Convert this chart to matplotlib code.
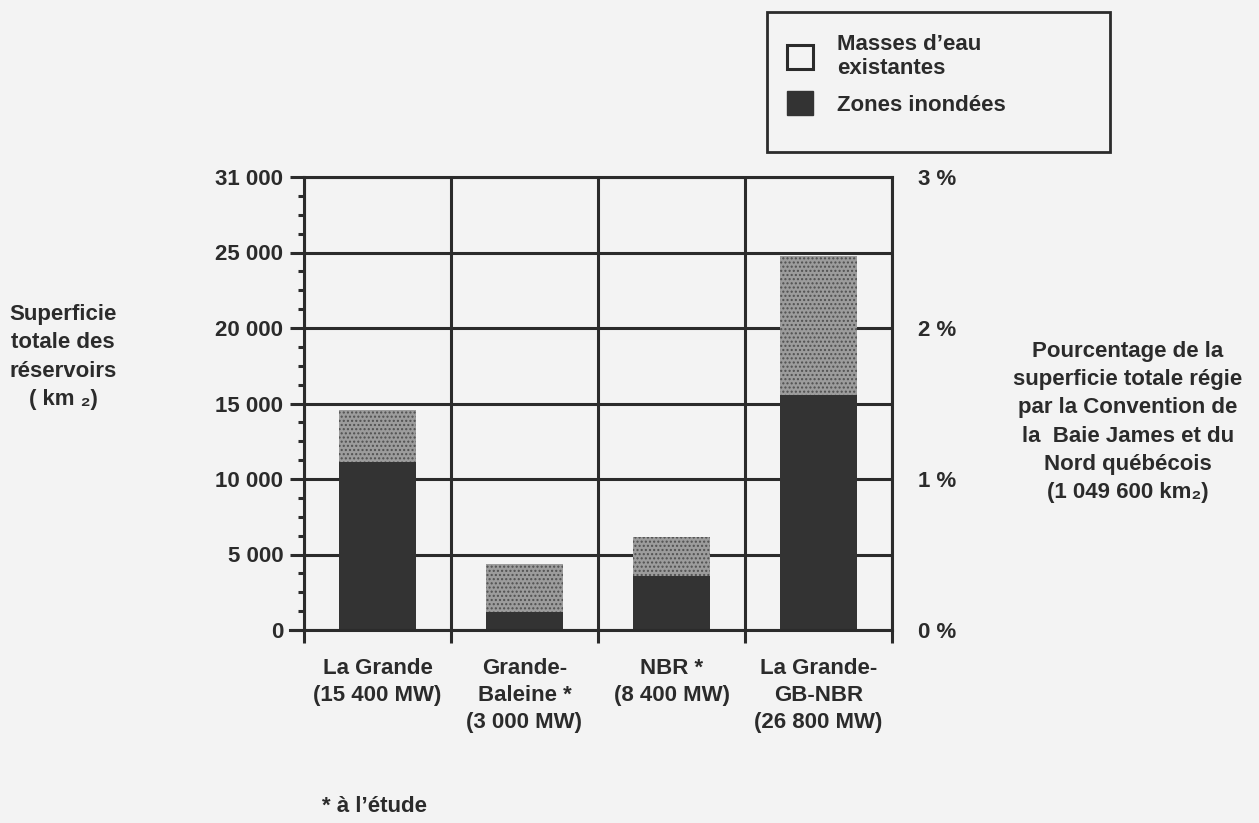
import matplotlib
matplotlib.use("Agg")
import matplotlib.pyplot as plt
from matplotlib.patches import Patch, Rectangle
from matplotlib.ticker import MultipleLocator

# values (km2)
categories = [
    "La Grande\n(15 400 MW)",
    "Grande-\nBaleine *\n(3 000 MW)",
    "NBR *\n(8 400 MW)",
    "La Grande-\nGB-NBR\n(26 800 MW)",
]
zones_inondees = [11100, 1200, 3600, 15550]
masses_existantes = [3450, 3150, 2550, 9250]

left_ticks = [0, 5000, 10000, 15000, 20000, 25000, 30000]
left_labels = ["0", "5 000", "10 000", "15 000", "20 000", "25 000", "31 000"]
right_ticks = [0, 1, 2, 3]
right_labels = ["0 %", "1 %", "2 %", "3 %"]

INK = "#2b2b2b"
PAPER = "#f3f3f3"
DARK = "#333333"
LW = 2.2

plt.rcParams["font.family"] = ["Liberation Sans", "DejaVu Sans"]
plt.rcParams["font.weight"] = "bold"
plt.rcParams["font.size"] = 16
plt.rcParams["text.color"] = INK
plt.rcParams["hatch.color"] = "#505050"
plt.rcParams["hatch.linewidth"] = 1.0

fig = plt.figure(figsize=(12.59, 8.23), dpi=100, facecolor=PAPER)
ax = fig.add_axes([304 / 1259, 1 - 630 / 823, 588 / 1259, 453 / 823])
ax.set_facecolor(PAPER)

x = list(range(len(categories)))
ax.bar(x, zones_inondees, width=0.52, color=DARK, linewidth=0, zorder=3)
ax.bar(x, masses_existantes, width=0.52, bottom=zones_inondees,
       color="#9c9c9c", hatch="....", linewidth=0, zorder=3)

ax.set_xlim(-0.5, len(categories) - 0.5)
ax.set_ylim(0, 30000)

# category boundaries as major x ticks (vertical lines + short outward ticks)
ax.set_xticks([i - 0.5 for i in range(len(categories) + 1)])
ax.set_xticklabels([])
ax.set_xticks(x, minor=True)
ax.set_xticklabels(categories, minor=True, fontsize=16, linespacing=1.38)
ax.tick_params(axis="x", which="major", direction="out", length=9.5,
               width=LW, color=INK)
ax.tick_params(axis="x", which="minor", length=0, pad=20, colors=INK)

ax.set_yticks(left_ticks)
ax.set_yticklabels(left_labels, fontsize=16)
ax.yaxis.set_minor_locator(MultipleLocator(1250))
ax.tick_params(axis="y", which="major", direction="out", length=10,
               width=LW, color=INK, pad=5, labelcolor=INK)
ax.tick_params(axis="y", which="minor", direction="out", length=4.5,
               width=LW, color=INK)

ax.grid(True, which="major", color=INK, linewidth=LW, zorder=1)
ax.set_axisbelow(True)
for sp in ax.spines.values():
    sp.set_color(INK)
    sp.set_linewidth(LW)
ax.spines["bottom"].set_visible(False)
ax.axhline(0, color=INK, linewidth=LW, zorder=4, xmin=-0.024, clip_on=False)

ax2 = ax.twinx()
ax2.set_ylim(0, 3)
ax2.set_yticks(right_ticks)
ax2.set_yticklabels(right_labels, fontsize=16)
ax2.tick_params(axis="y", length=0, pad=19, labelcolor=INK)
for sp in ax2.spines.values():
    sp.set_visible(False)

fig.text(63 / 1259, 1 - 357 / 823,
         "Superficie\ntotale des\nréservoirs\n( km ₂)",
         ha="center", va="center", fontsize=16, linespacing=1.45)
fig.text(1128 / 1259, 1 - 422 / 823,
         "Pourcentage de la\nsuperficie totale régie\npar la Convention de\n"
         "la  Baie James et du\nNord québécois\n(1 049 600 km₂)",
         ha="center", va="center", fontsize=16, linespacing=1.45)
fig.text(322 / 1259, 1 - 806 / 823, "* à l’étude", ha="left", va="center",
         fontsize=16)

# legend frame drawn separately: the original box has a wide empty margin
fig.add_artist(Rectangle((767 / 1259, 1 - 152 / 823), 343 / 1259, 140 / 823,
                         transform=fig.transFigure, facecolor=PAPER,
                         edgecolor=INK, linewidth=2))
handles = [
    Patch(facecolor=PAPER, edgecolor=INK, linewidth=2.2),
    Patch(facecolor=DARK, edgecolor=DARK),
]
fig.legend(handles, ["Masses d’eau\nexistantes", "Zones inondées"],
           loc="upper left", bbox_to_anchor=(787 / 1259, 1 - 34 / 823),
           fontsize=16, handlelength=1.15, handleheight=1.25,
           handletextpad=1.1, labelspacing=0.55, borderpad=0,
           borderaxespad=0, frameon=False)

fig.savefig("out.png", dpi=100, facecolor=PAPER)
